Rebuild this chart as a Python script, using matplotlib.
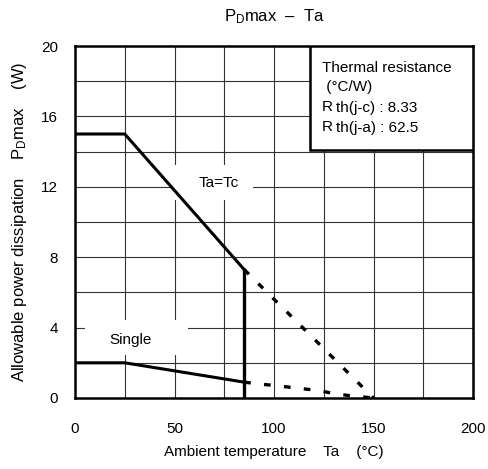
import matplotlib.pyplot as plt
from matplotlib.patches import Rectangle

plt.rcParams['font.family'] = ['Liberation Sans', 'DejaVu Sans']
plt.rcParams['mathtext.fontset'] = 'custom'
plt.rcParams['mathtext.rm'] = 'Liberation Sans'
plt.rcParams['mathtext.it'] = 'Liberation Sans'

# Ta = Tc curve (solid part, then dashed extension to 150 C)
tc_x = [0, 25, 85]
tc_y = [15, 15, 7.3]
tc_dash_x = [85, 150]
tc_dash_y = [7.3, 0]

# Single (no heatsink) curve
single_x = [0, 25, 85]
single_y = [2, 2, 0.9]
single_dash_x = [85, 94, 103, 112, 121, 129, 138, 150]
single_dash_y = [0.9, 0.78, 0.68, 0.55, 0.45, 0.28, 0.13, 0]

# vertical limit line at Ta = 85
vline_x = 85
vline_top = 7.3

x_ticks = [0, 50, 100, 150, 200]
y_ticks = [0, 4, 8, 12, 16, 20]

legend_lines = ['Thermal resistance', ' (°C/W)']
rth_names = ['th(j-c)', 'th(j-a)']
rth_values = ['8.33', '62.5']

fig = plt.figure(figsize=(4.89, 4.69), dpi=100)
ax = fig.add_axes([0.1534, 0.1514, 0.8139, 0.7505])

ax.set_xlim(0, 200)
ax.set_ylim(0, 20)

# grid every 25 C / 2 W
for gx in range(25, 200, 25):
    ax.axvline(gx, color='#333333', lw=0.8, zorder=1)
for gy in range(2, 20, 2):
    ax.axhline(gy, color='#333333', lw=0.8, zorder=1)

ax.set_xticks(x_ticks)
ax.set_yticks(y_ticks)
ax.tick_params(length=0, labelsize=11)
ax.tick_params(axis='x', pad=17)
ax.tick_params(axis='y', pad=12)
for s in ax.spines.values():
    s.set_linewidth(1.8)

ax.plot(tc_x, tc_y, color='black', lw=2.2, zorder=4, solid_joinstyle='miter')
ax.plot(tc_dash_x, tc_dash_y, color='black', lw=2.4, ls=(0, (2, 4)), zorder=4)
ax.plot(single_x, single_y, color='black', lw=2.2, zorder=4)
ax.plot(single_dash_x, single_dash_y, color='black', lw=2.4, ls=(0, (2, 4)), zorder=4)
ax.plot([vline_x, vline_x], [0, vline_top], color='black', lw=2.4, zorder=4)

# curve labels on white patches
ax.add_patch(Rectangle((49.3, 11.25), 40, 2.0, facecolor='white', edgecolor='none', zorder=2))
ax.text(72.4, 12.2, 'Ta=Tc', fontsize=11, ha='center', va='center', zorder=3)
ax.add_patch(Rectangle((5, 2.45), 52, 2.0, facecolor='white', edgecolor='none', zorder=2))
ax.text(27.7, 3.3, 'Single', fontsize=11, ha='center', va='center', zorder=3)

# thermal resistance box
ax.add_patch(Rectangle((118, 14.1), 82, 5.9, facecolor='white', edgecolor='black',
                       lw=1.8, zorder=5))
ax.text(124, 18.75, legend_lines[0], fontsize=11, va='center', zorder=6)
ax.text(124, 17.65, legend_lines[1], fontsize=11, va='center', zorder=6)
for i, (nm, val) in enumerate(zip(rth_names, rth_values)):
    yy = 16.55 - i * 1.13
    ax.text(124, yy, 'R', fontsize=11, va='center', zorder=6)
    ax.text(131, yy - 0.1, nm + ' : ' + val, fontsize=11, va='center', zorder=6)

ax.set_title(r'P$_{\mathrm{D}}$max  –  Ta', fontsize=12, pad=18)
ax.set_xlabel('Ambient temperature    Ta    (°C)', fontsize=11, labelpad=7)
ax.set_ylabel(r'Allowable power dissipation    P$_{\mathrm{D}}$max    (W)', fontsize=12, labelpad=9)

fig.savefig('out.png', dpi=100)
